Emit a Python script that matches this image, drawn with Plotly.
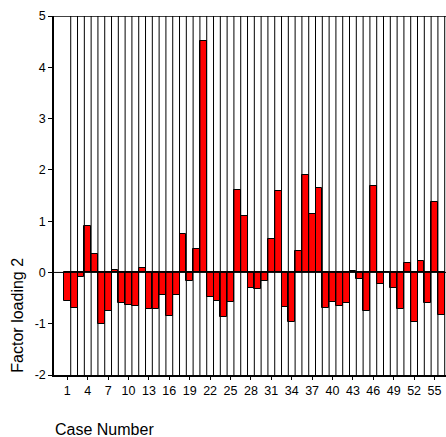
import plotly.graph_objects as go

cases = list(range(1, 57))
loading2 = [
    -0.56, -0.69, -0.08, 0.90, 0.35, -1.00, -0.75, 0.05, -0.60, -0.64,
    -0.65, 0.08, -0.71, -0.71, -0.44, -0.84, -0.44, 0.74, -0.17, 0.46,
    4.52, -0.47, -0.56, -0.86, -0.58, 1.60, 1.11, -0.30, -0.32, -0.16,
    0.65, 1.58, -0.67, -0.96, 0.42, 1.90, 1.14, 1.64, -0.70, -0.58,
    -0.65, -0.60, 0.03, -0.13, -0.75, 1.69, -0.23, 0.01, -0.30, -0.71,
    0.18, -0.97, 0.23, -0.60, 1.37, -0.83,
]
x_tick_vals = cases[::3]
y_tick_vals = [-2, -1, 0, 1, 2, 3, 4, 5]
y_tick_text = ["-2", "-1", "0", "1", "2", "3", "4", "5"]

font_family = "Liberation Sans, Arial, sans-serif"

fig = go.Figure()
fig.add_trace(go.Bar(
    x=cases, y=loading2, width=1,
    marker=dict(color="#FF0000", line=dict(color="#000000", width=1)),
    showlegend=False,
))

shapes = []
for c in cases:
    shapes.append(dict(type="line", xref="x", yref="paper", x0=c + 0.5, x1=c + 0.5,
                       y0=0, y1=1, line=dict(color="#000000", width=1), layer="above"))
shapes.append(dict(type="line", xref="paper", yref="y", x0=0, x1=1, y0=5, y1=5,
                   line=dict(color="#000000", width=1.5)))
shapes.append(dict(type="line", xref="paper", yref="y", x0=0, x1=1, y0=0, y1=0,
                   line=dict(color="#000000", width=1), layer="above"))

fig.update_layout(
    width=446, height=437,
    margin=dict(l=54, r=0, t=16, b=62),
    paper_bgcolor="white", plot_bgcolor="white",
    font=dict(family=font_family, size=12, color="#000000"),
    bargap=0,
    shapes=shapes,
    xaxis=dict(range=[-0.96, 56.69], tickmode="array", tickvals=x_tick_vals,
               ticks="outside", ticklen=3, tickcolor="#000000", showgrid=False,
               zeroline=False, showline=True, linecolor="#000000", linewidth=1.5,
               tickfont=dict(size=12.5)),
    yaxis=dict(range=[-2, 5], tickmode="array", tickvals=y_tick_vals, ticktext=y_tick_text,
               ticks="outside", ticklen=4, tickcolor="#000000", showgrid=False,
               zeroline=False, showline=True, linecolor="#000000", linewidth=1.5,
               tickfont=dict(size=12.5)),
    annotations=[
        dict(text="Factor loading 2", xref="paper", yref="paper", x=-0.094, y=0,
             xanchor="center", yanchor="bottom", textangle=-90, showarrow=False,
             font=dict(size=16)),
        dict(text="Case Number", xref="paper", yref="paper", x=-0.003, y=-0.153,
             xanchor="left", yanchor="middle", showarrow=False, font=dict(size=16)),
    ],
)

fig.write_html("out.html", config={"displayModeBar": False},
               post_script="document.body.style.margin='0';")
